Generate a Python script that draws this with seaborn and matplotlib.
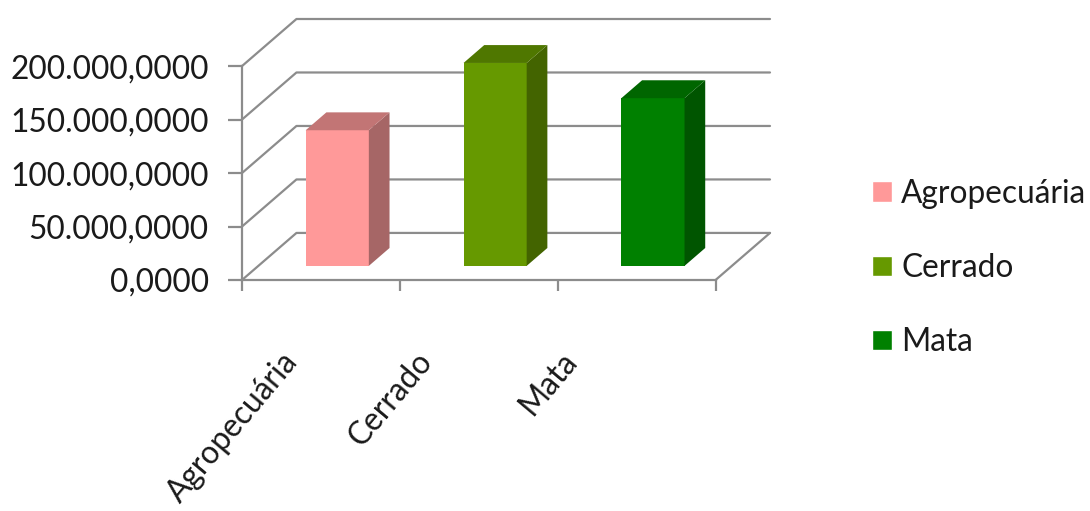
import pandas as pd
import seaborn as sns
import matplotlib.pyplot as plt
from matplotlib.patches import Polygon, Patch
from matplotlib.ticker import FuncFormatter
from matplotlib.transforms import blended_transform_factory

categories = ['Agropecuária', 'Cerrado', 'Mata']
values = [126800, 189700, 156800]
front_colors = ['#FF9999', '#669900', '#008000']
top_colors = ['#C27575', '#4F7700', '#006600']
side_colors = ['#A66666', '#436400', '#005500']
y_ticks = [0, 50000, 100000, 150000, 200000]

# fake 3D: offset of the back wall in data units, bar depth as fraction
DX, DY = 0.345, 44000
D0, D1 = 0.30, 0.68
grid = '#8c8c8c'
fs = 22.8


def br_fmt(v, pos):
    s = f"{v:,.4f}"
    return s.replace(',', 'X').replace('.', ',').replace('X', '.')


sns.set_theme(style='white')
plt.rcParams['font.family'] = ['Lato', 'DejaVu Sans']

fig = plt.figure(figsize=(10.9, 5.11), dpi=100)
ax = fig.add_axes([242 / 1090, 1 - 280 / 511, (770 - 242) / 1090, (280 - 19) / 511])

df = pd.DataFrame({'uso': categories, 'valor': values})
sns.barplot(data=df, x='uso', y='valor', hue='uso', palette=front_colors,
            width=0.4, saturation=1, legend=False, linewidth=0, zorder=3, ax=ax)

# move the bars into the box and add top/side faces
bars = [b for c in ax.containers for b in c]
for bar, tc, sc in zip(bars, top_colors, side_colors):
    x0 = bar.get_x() + D0 * DX
    y0 = D0 * DY
    w, h = bar.get_width(), bar.get_height()
    bar.set_x(x0)
    bar.set_y(y0)
    ddx, ddy = (D1 - D0) * DX, (D1 - D0) * DY
    x1, top = x0 + w, y0 + h
    ax.add_patch(Polygon([(x1, y0), (x1 + ddx, y0 + ddy), (x1 + ddx, top + ddy), (x1, top)],
                         facecolor=sc, lw=0, zorder=3))
    ax.add_patch(Polygon([(x0, top), (x1, top), (x1 + ddx, top + ddy), (x0 + ddx, top + ddy)],
                         facecolor=tc, lw=0, zorder=3))

# walls and gridlines
for v in y_ticks:
    ax.plot([-0.5, -0.5 + DX, 2.5 + DX], [v, v + DY, v + DY], color=grid, lw=1.6,
            zorder=1, clip_on=False)
ax.plot([2.5, 2.5 + DX], [0, DY], color=grid, lw=1.6, zorder=1, clip_on=False)

ax.set_xlim(-0.5, 2.5 + DX)
ax.set_ylim(0, 200000 + DY)
for s in ['top', 'right']:
    ax.spines[s].set_visible(False)
for s in ['left', 'bottom']:
    ax.spines[s].set_color(grid)
    ax.spines[s].set_linewidth(1.6)
ax.spines['left'].set_bounds(0, 200000)
ax.spines['bottom'].set_bounds(-0.5, 2.5)

ax.set_yticks(y_ticks)
ax.yaxis.set_major_formatter(FuncFormatter(br_fmt))
ax.set_xticks([-0.5, 0.5, 1.5, 2.5])
ax.set_xticklabels([])
ax.tick_params(axis='y', left=True, length=10, width=1.6, color=grid, pad=14,
               labelsize=fs, labelcolor='#1a1a1a')
ax.tick_params(axis='x', bottom=True, length=8, width=1.6, color=grid)
ax.set_xlabel('')
ax.set_ylabel('')

trans = blended_transform_factory(ax.transData, ax.transAxes)
for i, cat in enumerate(categories):
    ax.text(i - 0.56, -0.255, cat, rotation=50, ha='center', va='top',
            transform=trans, fontsize=fs, color='#1a1a1a')

handles = [Patch(facecolor=c) for c in front_colors]
fig.legend(handles, categories, loc='center left', bbox_to_anchor=(0.8, 0.4755),
           frameon=False, fontsize=fs, handlelength=0.62, handleheight=0.62,
           handletextpad=0.3, labelspacing=1.4, borderpad=0, borderaxespad=0,
           labelcolor='#1a1a1a')

fig.savefig('out.png', dpi=100)
